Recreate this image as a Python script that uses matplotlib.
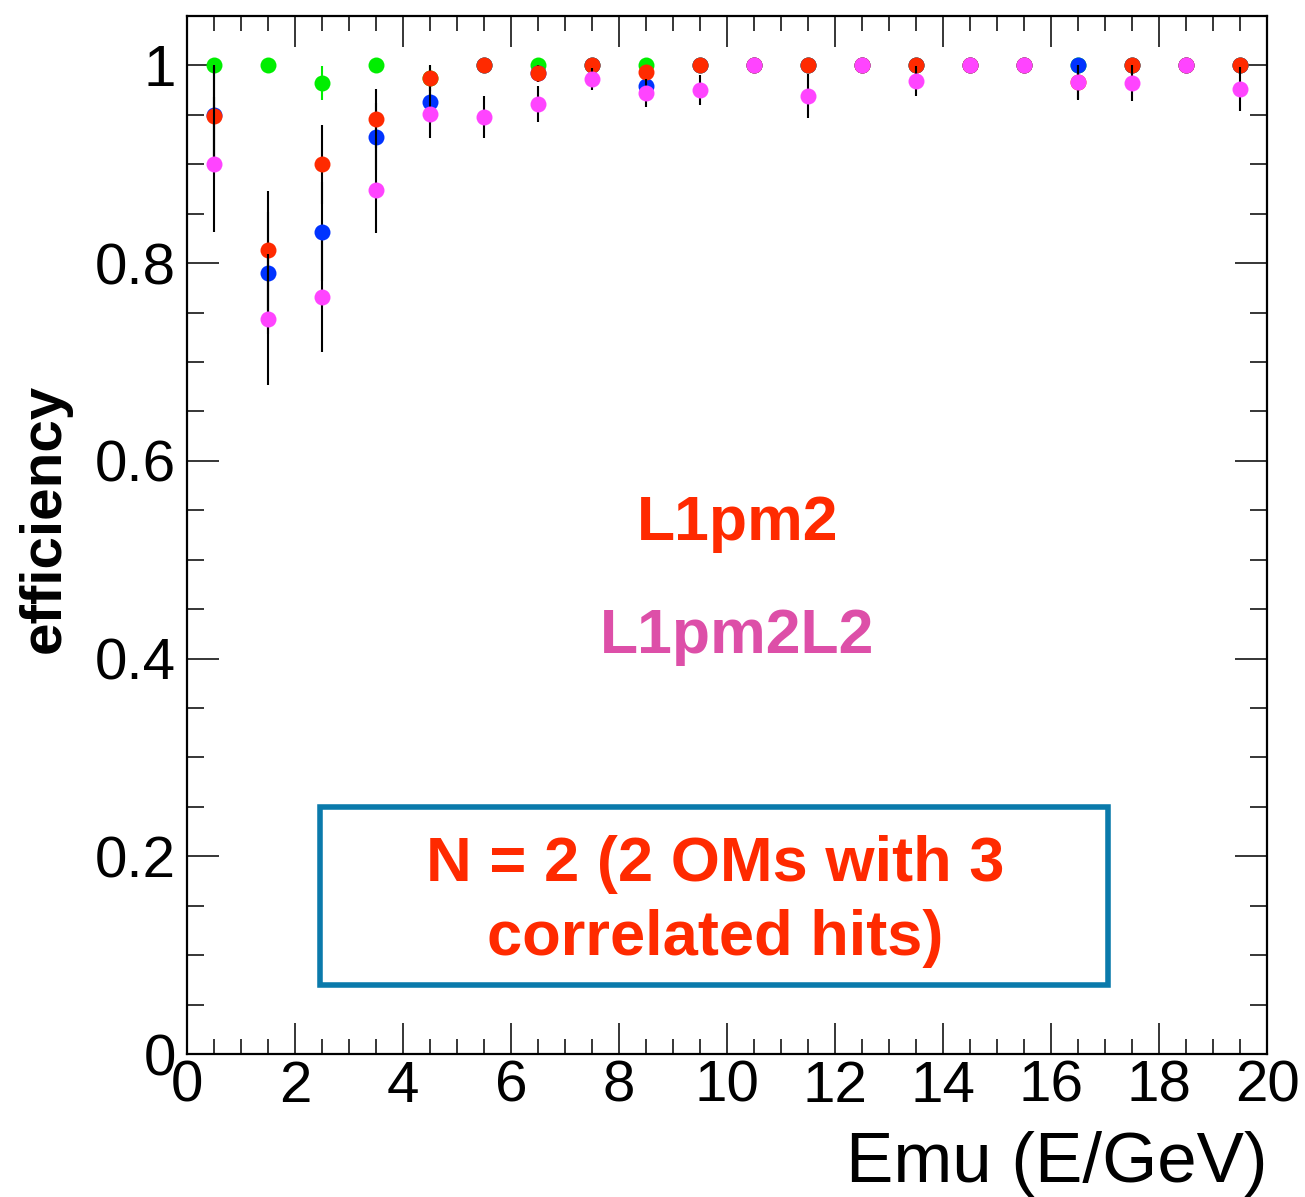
import numpy as np
import matplotlib
matplotlib.use("Agg")
import matplotlib.pyplot as plt
from matplotlib.patches import Rectangle
from matplotlib.ticker import MultipleLocator, FuncFormatter

plt.rcParams['font.family'] = ['Liberation Sans', 'DejaVu Sans']

# Energy bin centres (GeV)
emu = [0.5, 1.5, 2.5, 3.5, 4.5, 5.5, 6.5, 7.5, 8.5, 9.5,
       10.5, 11.5, 12.5, 13.5, 14.5, 15.5, 16.5, 17.5, 18.5, 19.5]

# Trigger efficiencies per bin
eff_green = [1.000, 1.000, 0.982, 1.000, 0.987, 1.000, 1.000, 1.000, 1.000, 1.000,
             1.000, 1.000, 1.000, 1.000, 1.000, 1.000, 1.000, 1.000, 1.000, 1.000]
err_green = [0.000, 0.000, 0.017, 0.000, 0.012, 0.000, 0.000, 0.000, 0.000, 0.000,
             0.000, 0.000, 0.000, 0.000, 0.000, 0.000, 0.000, 0.000, 0.000, 0.000]

eff_blue = [0.950, 0.790, 0.832, 0.928, 0.963, 1.000, 0.992, 1.000, 0.979, 1.000,
            1.000, 1.000, 1.000, 1.000, 1.000, 1.000, 1.000, 1.000, 1.000, 1.000]
err_blue = [0.050, 0.062, 0.050, 0.034, 0.021, 0.000, 0.009, 0.000, 0.013, 0.000,
            0.000, 0.000, 0.000, 0.000, 0.000, 0.000, 0.000, 0.000, 0.000, 0.000]

eff_red = [0.949, 0.813, 0.900, 0.946, 0.987, 1.000, 0.992, 1.000, 0.993, 1.000,
           1.000, 1.000, 1.000, 1.000, 1.000, 1.000, 0.983, 1.000, 1.000, 1.000]
err_red = [0.049, 0.060, 0.040, 0.030, 0.013, 0.000, 0.009, 0.000, 0.008, 0.000,
           0.000, 0.000, 0.000, 0.000, 0.000, 0.000, 0.017, 0.000, 0.000, 0.000]

eff_magenta = [0.900, 0.743, 0.766, 0.874, 0.951, 0.948, 0.961, 0.986, 0.972, 0.975,
               1.000, 0.969, 1.000, 0.984, 1.000, 1.000, 0.983, 0.982, 1.000, 0.976]
err_magenta = [0.068, 0.066, 0.056, 0.044, 0.024, 0.021, 0.018, 0.011, 0.014, 0.015,
               0.000, 0.022, 0.000, 0.015, 0.000, 0.000, 0.018, 0.018, 0.000, 0.022]

series = [
    (eff_green, err_green, '#00ee00', '#00ee00'),
    (eff_blue, err_blue, '#0033ff', 'black'),
    (eff_red, err_red, '#ff2a00', 'black'),
    (eff_magenta, err_magenta, '#ff44ff', 'black'),
]

W, H = 1305, 1197
fig = plt.figure(figsize=(W / 100, H / 100), dpi=100)
ax = fig.add_axes([187 / W, 1 - 1054 / H, (1267 - 187) / W, (1054 - 16) / H])

for i, (eff, err, mcol, ecol) in enumerate(series):
    eff = np.asarray(eff)
    err = np.asarray(err)
    lo = err
    hi = np.minimum(err, 1.0 - eff)
    ax.errorbar(emu, eff, yerr=[lo, hi], fmt='none', ecolor=ecol,
                elinewidth=1.5, capsize=0, zorder=2 + 2 * i)
    ax.plot(emu, eff, 'o', color=mcol, markersize=11.5, markeredgewidth=0,
            zorder=3 + 2 * i)

ax.set_xlim(0, 20)
ax.set_ylim(0, 1.05)

ax.xaxis.set_major_locator(MultipleLocator(2))
ax.xaxis.set_minor_locator(MultipleLocator(0.5))
ax.yaxis.set_major_locator(MultipleLocator(0.2))
ax.yaxis.set_minor_locator(MultipleLocator(0.05))
ax.yaxis.set_major_formatter(FuncFormatter(lambda v, p: '%g' % round(v, 2)))
ax.xaxis.set_major_formatter(FuncFormatter(lambda v, p: '%g' % round(v, 2)))

ax.tick_params(axis='both', which='both', direction='in', top=True, right=True,
               width=1.1, labelsize=42)
ax.tick_params(axis='y', which='major', length=23, pad=8)
ax.tick_params(axis='y', which='minor', length=12)
ax.tick_params(axis='x', which='major', length=22, pad=4)
ax.tick_params(axis='x', which='minor', length=11)
for sp in ax.spines.values():
    sp.set_linewidth(1.6)

# Axis titles
ax.text(1.0, (1054 - 1182) / (1054 - 16), 'Emu (E/GeV)', transform=ax.transAxes,
        ha='right', va='baseline', fontsize=51)
fig.text(45 / W, 1 - 518 / H, 'efficiency', rotation=90, ha='center', va='center',
         fontsize=42, fontweight='bold')

# Trigger labels
ax.text(10.2, 0.5197, 'L1pm2', color='#ff2a00', fontsize=45, fontweight='bold',
        ha='center', va='baseline')
ax.text(10.19, 0.4055, 'L1pm2L2', color='#dd4fa8', fontsize=45, fontweight='bold',
        ha='center', va='baseline')

# Condition box
ax.add_patch(Rectangle((2.463, 0.0698), 17.06 - 2.463, 0.2497 - 0.0698,
                       fill=False, edgecolor='#0a7aab', linewidth=4, zorder=20))
ax.text(9.78, 0.1749, 'N = 2 (2 OMs with 3', color='#ff2a00', fontsize=45.5,
        fontweight='bold', ha='center', va='baseline', zorder=21)
ax.text(9.78, 0.1001, 'correlated hits)', color='#ff2a00', fontsize=45.5,
        fontweight='bold', ha='center', va='baseline', zorder=21)

fig.savefig('out.png', dpi=100)
